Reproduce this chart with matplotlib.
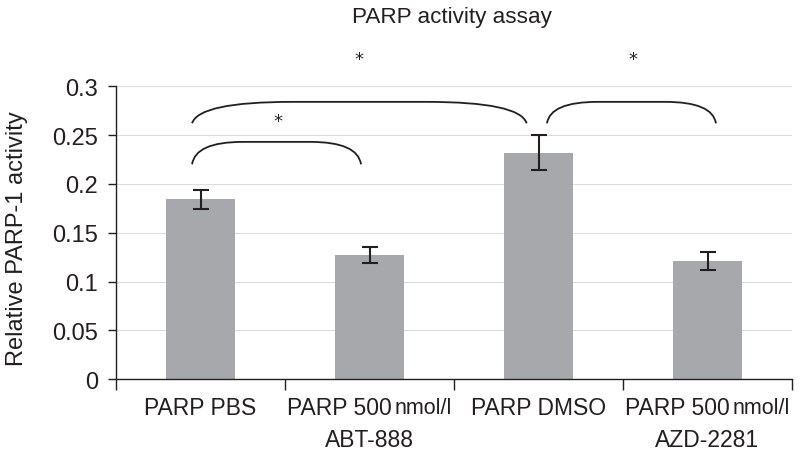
import matplotlib
matplotlib.use("Agg")
import matplotlib.pyplot as plt
from matplotlib.path import Path
from matplotlib.patches import PathPatch

plt.rcParams["font.family"] = ["Liberation Sans", "DejaVu Sans"]

# -------------------------
# Data
# -------------------------
groups = ["PARP PBS", "PARP 500", "PARP DMSO", "PARP 500"]
units = ["", "nmol/l", "", "nmol/l"]
drugs = ["", "ABT-888", "", "AZD-2281"]
activity = [0.184, 0.127, 0.232, 0.121]
errors = [0.010, 0.0085, 0.018, 0.009]

# significance brackets: (start, end) in category units, star position
brackets = [(-0.05, 0.95), (-0.05, 1.93), (2.05, 3.05)]
bracket_heights = [(0.220, 0.243), (0.262, 0.284), (0.262, 0.284)]
stars = [(0.46, 0.264), (0.94, 0.328), (2.56, 0.328)]

BAR_COLOR = "#a7a8ab"
INK = "#231f20"
FS = 16.5


def draw_bracket(ax, x0, x1, y0, y1):
    """Rounded brace between two bars."""
    w = x1 - x0
    verts = [(x0, y0), (x0 + 0.02 * w, y1), (x0 + 0.3 * w, y1),
             (x1 - 0.3 * w, y1),
             (x1 - 0.02 * w, y1), (x1, y0)]
    codes = [Path.MOVETO, Path.CURVE3, Path.CURVE3, Path.LINETO,
             Path.CURVE3, Path.CURVE3]
    ax.add_patch(PathPatch(Path(verts, codes), fill=False, lw=1.3,
                           edgecolor=INK, clip_on=False))


fig = plt.figure(figsize=(8, 4.52), dpi=100)
ax = fig.add_axes([0.145, 0.159, 0.845, 0.648])

x = list(range(len(activity)))
ax.bar(x, activity, width=0.41, color=BAR_COLOR, zorder=2)
ax.errorbar(x, activity, yerr=errors, fmt="none", ecolor=INK,
            elinewidth=1.5, capsize=5.5, capthick=1.5, zorder=3)

ax.set_xlim(-0.5, 3.5)
ax.set_ylim(0, 0.3)
ax.set_yticks([0, 0.05, 0.1, 0.15, 0.2, 0.25, 0.3])
ax.set_yticklabels(["0", "0.05", "0.1", "0.15", "0.2", "0.25", "0.3"])
ax.yaxis.grid(True, color="#dcdcdc", lw=0.8, zorder=0)
ax.set_axisbelow(True)

ax.set_xticks([-0.5, 0.5, 1.5, 2.5, 3.5])
ax.set_xticklabels([])
ax.tick_params(axis="x", direction="out", length=8, width=1, color=INK)
ax.tick_params(axis="y", direction="out", length=6, width=1, color=INK,
               labelsize=17, labelcolor=INK, pad=7)
for s in ["top", "right"]:
    ax.spines[s].set_visible(False)
for s in ["left", "bottom"]:
    ax.spines[s].set_color(INK)
    ax.spines[s].set_linewidth(1)

fig.text(0.021, 0.472, "Relative PARP-1 activity", rotation=90,
         ha="center", va="center", fontsize=17, color=INK)
fig.text(0.565, 0.962, "PARP activity assay", ha="center", va="center",
         fontsize=16.2, color=INK)

# category labels: main text, unit text, second line
fig.canvas.draw()
renderer = fig.canvas.get_renderer()
xt = ax.get_xaxis_transform()
for i in x:
    main = ax.text(i, -0.096, groups[i], ha="center", va="center",
                   fontsize=FS, color=INK, transform=xt)
    if units[i]:
        unit = ax.text(i, -0.096, units[i], ha="left", va="center",
                       fontsize=15.5, color=INK, transform=xt)
        wm = main.get_window_extent(renderer).width
        wu = unit.get_window_extent(renderer).width
        gap = 3
        total = wm + gap + wu
        inv = ax.transData.inverted()
        x_px = ax.transData.transform((i, 0))[0]
        left = x_px - total / 2
        main.set_ha("left")
        main.set_x(inv.transform((left, 0))[0])
        unit.set_x(inv.transform((left + wm + gap, 0))[0])
        ax.text(i, -0.205, drugs[i], ha="center", va="center", fontsize=FS,
                color=INK, transform=xt)

for (x0, x1), (y0, y1) in zip(brackets, bracket_heights):
    draw_bracket(ax, x0, x1, y0, y1)
for sx, sy in stars:
    ax.text(sx, sy, "*", ha="center", va="center", fontsize=13,
            family="DejaVu Sans", color=INK, clip_on=False)

fig.savefig("out.png", dpi=100)
